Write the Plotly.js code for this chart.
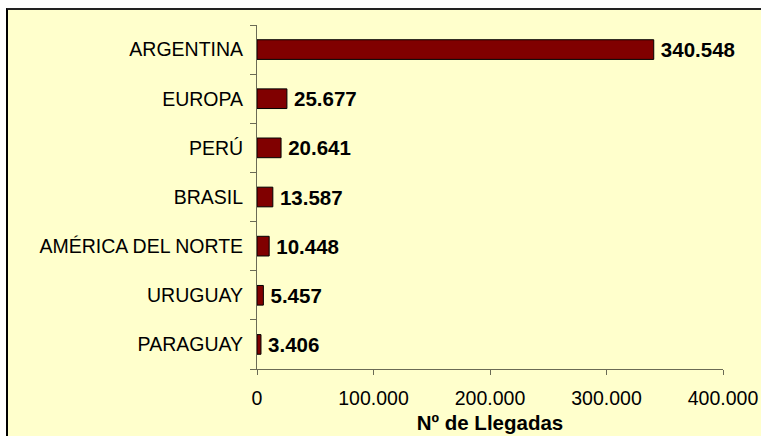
<!DOCTYPE html>
<html>
<head>
<meta charset="utf-8">
<script src="https://cdn.plot.ly/plotly-3.0.1.min.js"></script>
<style>
  html, body { margin: 0; padding: 0; background: #ffffff; width: 761px; height: 436px; overflow: hidden; }
  #frame { position: absolute; left: 6px; top: 8px; width: 755px; height: 428px;
           border-left: 2px solid #000; border-top: 2px solid #222; background: #FFFFCC; }
  #chart { width: 755px; height: 428px; }
</style>
</head>
<body>
<div id="frame"><div id="chart"></div></div>
<script>
const categories = ["ARGENTINA", "EUROPA", "PERÚ", "BRASIL", "AMÉRICA DEL NORTE", "URUGUAY", "PARAGUAY"];
const llegadas = [340548, 25677, 20641, 13587, 10448, 5457, 3406];
const xTickValues = [0, 100000, 200000, 300000, 400000];
const xAxisTitle = "Nº de Llegadas";

const font = "Liberation Sans, Arial, sans-serif";

const trace = {
  type: "bar",
  orientation: "h",
  y: categories.slice().reverse(),
  x: llegadas.slice().reverse(),
  marker: { color: "#800000", line: { color: "#000000", width: 1 } },
  texttemplate: "\u2009<b>%{x:,}</b>",
  textposition: "outside",
  constraintext: "none",
  cliponaxis: false,
  textfont: { family: font, size: 20.5, color: "#000000" },
  hoverinfo: "none"
};

const layout = {
  width: 755,
  height: 428,
  paper_bgcolor: "#FFFFCC",
  plot_bgcolor: "#FFFFCC",
  separators: ",.",
  margin: { l: 249, r: 40, t: 15, b: 69 },
  bargap: 0.6,
  showlegend: false,
  font: { family: font, size: 19.5, color: "#000000" },
  xaxis: {
    range: [0, 400000],
    tickvals: xTickValues,
    tickformat: ",",
    showgrid: false,
    zeroline: false,
    showline: true,
    linecolor: "#6b6b55",
    linewidth: 1,
    ticks: "outside",
    ticklen: 5,
    tickcolor: "#6b6b55",
    ticklabelstandoff: 7,
    tickfont: { family: font, size: 19.5, color: "#000000" },
    title: { text: "<b>" + xAxisTitle + "</b>", font: { family: font, size: 20.5, color: "#000000" }, standoff: 7 },
    fixedrange: true
  },
  yaxis: {
    type: "category",
    showgrid: false,
    zeroline: false,
    showline: true,
    linecolor: "#6b6b55",
    linewidth: 1,
    ticks: "outside",
    tickson: "boundaries",
    ticklen: 6,
    tickcolor: "#6b6b55",
    ticklabelstandoff: 9,
    tickfont: { family: font, size: 19.5, color: "#000000" },
    fixedrange: true
  }
};

Plotly.newPlot("chart", [trace], layout, { displayModeBar: false, staticPlot: true });
</script>
</body>
</html>
